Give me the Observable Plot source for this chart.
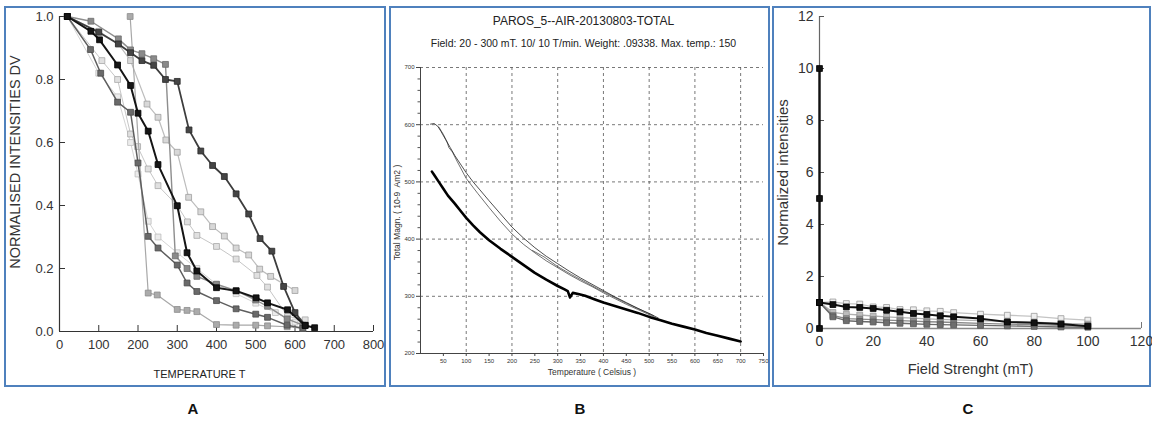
<!DOCTYPE html>
<html><head><meta charset="utf-8">
<script src="https://cdn.jsdelivr.net/npm/d3@7"></script>
<script src="https://cdn.jsdelivr.net/npm/@observablehq/plot@0.6"></script>
<style>
body{margin:0;background:#fff;}
#wrap{position:relative;width:1152px;height:423px;overflow:hidden;background:#fff;}
.box{position:absolute;border:2px solid #4f81bd;box-sizing:border-box;background:#fff;}
.box svg{position:absolute;left:0;overflow:visible;}
.lab{position:absolute;font:bold 15px "Liberation Sans",Arial,sans-serif;color:#111;transform:translate(-50%,-50%);}
.ttl{position:absolute;left:0;width:100%;text-align:center;font-family:"Liberation Sans",Arial,sans-serif;color:#222;white-space:nowrap;}
</style></head><body><div id="wrap"></div>
<script>
// ---------------- Panel A data (temperature, normalised intensity) ----------------
const aBlack = [[20,1],[80,0.953],[102,0.926],[148,0.846],[181,0.781],[200,0.693],[226,0.636],[251,0.53],[300,0.399],[325,0.25],[350,0.192],[400,0.139],[450,0.129],[501,0.107],[530,0.091],[581,0.069],[626,0.019],[650,0.012]];
const aDark = [[20,1],[100,0.95],[150,0.913],[181,0.885],[210,0.86],[240,0.845],[270,0.80],[300,0.794],[330,0.64],[360,0.573],[390,0.527],[420,0.492],[450,0.437],[482,0.373],[511,0.295],[541,0.255],[571,0.143],[600,0.06],[626,0.02]];
const aGray2 = [[20,1],[80,0.985],[150,0.929],[181,0.894],[210,0.882],[240,0.866],[270,0.848],[295,0.24],[325,0.2],[350,0.175],[400,0.15],[450,0.13],[500,0.1],[530,0.08],[580,0.04],[620,0.02]];
const aDrop180 = [[180,1.0],[226,0.122],[249,0.116],[300,0.07],[325,0.067],[350,0.063],[400,0.022],[450,0.02],[500,0.02],[530,0.018],[580,0.015],[620,0.01]];
const aMid = [[20,1],[79,0.895],[105,0.82],[148,0.728],[181,0.696],[200,0.535],[226,0.302],[251,0.265],[300,0.211],[325,0.154],[350,0.127],[400,0.098],[450,0.072],[500,0.055],[530,0.045],[580,0.02],[620,0.01]];
const aLight1 = [[20,1],[100,0.953],[150,0.913],[181,0.86],[223,0.722],[251,0.68],[271,0.608],[300,0.569],[329,0.426],[360,0.38],[390,0.333],[420,0.303],[450,0.265],[482,0.243],[510,0.198],[538,0.175],[600,0.13]];
const aLight2 = [[20,1],[108,0.86],[148,0.80],[181,0.627],[199,0.587],[226,0.516],[251,0.463],[300,0.40],[326,0.348],[350,0.305],[400,0.27],[450,0.23],[503,0.178],[530,0.141],[581,0.048],[626,0.037]];
const aLight3 = [[20,1],[100,0.82],[148,0.745],[181,0.60],[200,0.5],[226,0.35],[251,0.3],[300,0.25],[350,0.2],[400,0.15],[450,0.12],[500,0.09],[550,0.06],[600,0.03]];
const aTicksX = [0,100,200,300,400,500,600,700,800];
const aTicksY = [0,0.2,0.4,0.6,0.8,1.0];

// ---------------- Panel B data (temperature, total magnetisation) ----------------
const bThick = [[25,518],[30,512],[40,500],[50,488],[60,476],[75,462],[90,447],[100,437],[115,424],[130,412],[150,398],[175,383],[200,369],[225,355],[250,341],[275,329],[300,318],[315,312],[322,309],[327,298],[333,306],[345,304],[360,301],[380,295],[400,289],[425,283],[450,277],[475,271],[500,264],[525,258],[550,252],[575,247],[600,242],[625,236],[650,231],[675,226],[700,221]];
const bThin1 = [[22,601],[30,602],[38,597],[45,588],[55,574],[65,560],[75,546],[90,528],[100,516],[115,500],[130,486],[150,467],[175,444],[200,421],[225,402],[250,385],[275,370],[300,357],[325,344],[350,332],[375,321],[400,310],[425,299],[450,289],[475,279],[500,270],[520,262]];
const bThin2 = [[40,596],[50,583],[58,570],[62,560],[70,552],[80,536],[100,506],[125,480],[150,455],[175,431],[200,409],[225,391],[250,376],[275,362],[300,350],[325,338],[350,327],[375,317],[400,306],[425,296],[450,286],[475,277],[500,268],[515,262]];
const bThin3 = [[245,380],[270,369],[300,352],[330,338],[360,325],[390,312],[420,300],[450,288],[480,277],[510,266]];
const bTicksX = [50,100,150,200,250,300,350,400,450,500,550,600,650,700,750];
const bTicksY = [200,300,400,500,600,700];
const bMinorY = [220,240,260,280,320,340,360,380,420,440,460,480,520,540,560,580,620,640,660,680];
const bGridX = [100,200,300,400,500,600,700];
const bGridY = [300,400,500,600,700];

// ---------------- Panel C data (field strength, normalised intensity) ----------------
const cSpike = [[0,0],[0,5],[0,10],[0,1]];
const cLight = [[0,1],[5,1.02],[10,0.96],[15,0.94],[20,0.83],[25,0.81],[30,0.73],[35,0.72],[40,0.68],[45,0.66],[50,0.61],[60,0.55],[70,0.51],[80,0.47],[90,0.38],[100,0.32]];
const cBlack = [[0,1],[5,0.92],[10,0.83],[15,0.81],[20,0.77],[25,0.70],[30,0.64],[35,0.58],[40,0.54],[45,0.49],[50,0.45],[60,0.38],[70,0.25],[80,0.22],[90,0.17],[100,0.09]];
const cGrayL = [[0,1],[5,0.62],[10,0.55],[15,0.52],[20,0.48],[25,0.45],[30,0.42],[35,0.40],[40,0.37],[45,0.35],[50,0.33],[60,0.30],[70,0.27],[80,0.24],[90,0.20],[100,0.17]];
const cGray = [[0,1],[5,0.5],[10,0.38],[15,0.36],[20,0.34],[25,0.32],[30,0.30],[35,0.28],[40,0.26],[45,0.25],[50,0.23],[60,0.20],[70,0.17],[80,0.15],[90,0.12],[100,0.10]];
const cDark = [[0,1],[5,0.45],[10,0.30],[15,0.27],[20,0.25],[25,0.22],[30,0.20],[35,0.18],[40,0.16],[45,0.15],[50,0.14],[60,0.12],[70,0.10],[80,0.08],[90,0.06],[100,0.05]];
const cTicksX = [0,20,40,60,80,100,120];
const cTicksY = [0,2,4,6,8,10,12];

// ---------------- helpers ----------------
const sans = '"Liberation Sans",Arial,sans-serif';
const px = d => d[0], py = d => d[1];
function seriesMarks(list) {
  return list.flatMap(s => [
    Plot.line(s.pts, {x: px, y: py, stroke: s.stroke, strokeWidth: s.w}),
    Plot.dot(s.pts, {x: px, y: py, symbol: "square", r: s.r || 3.3, fill: s.fill, stroke: s.dot, strokeWidth: 0.8})
  ]);
}
const wrap = document.getElementById("wrap");
function box(left, top, w, h) {
  const d = document.createElement("div");
  d.className = "box";
  Object.assign(d.style, {left: left + "px", top: top + "px", width: w + "px", height: h + "px"});
  wrap.appendChild(d);
  return d;
}

// ---------------- Panel A ----------------
const seriesA = [
  {pts: aLight3, stroke: "#d4d4d4", fill: "#ececec", dot: "#bdbdbd", w: 1},
  {pts: aLight2, stroke: "#c6c6c6", fill: "#e0e0e0", dot: "#a8a8a8", w: 1},
  {pts: aLight1, stroke: "#bdbdbd", fill: "#d8d8d8", dot: "#a0a0a0", w: 1.2},
  {pts: aDrop180, stroke: "#a8a8a8", fill: "#ababab", dot: "#8c8c8c", w: 1.2},
  {pts: aGray2, stroke: "#8e8e8e", fill: "#8a8a8a", dot: "#6c6c6c", w: 1.4},
  {pts: aMid, stroke: "#5e5e5e", fill: "#6a6a6a", dot: "#4a4a4a", w: 1.5},
  {pts: aDark, stroke: "#3d3d3d", fill: "#454545", dot: "#2a2a2a", w: 1.8},
  {pts: aBlack, stroke: "#151515", fill: "#151515", dot: "#000", w: 2}
];
const boxA = box(4, 6, 382, 381);
const plotA = Plot.plot({
  width: 378, height: 377,
  marginLeft: 53, marginRight: 11, marginTop: 8, marginBottom: 54,
  style: {fontFamily: sans, background: "transparent", color: "#333"},
  x: {domain: [0, 800]},
  y: {domain: [0, 1]},
  marks: [
    Plot.ruleX([0], {stroke: "#333", strokeWidth: 1.2}),
    Plot.ruleY([0], {stroke: "#333", strokeWidth: 1.2}),
    Plot.axisX({ticks: aTicksX.slice(1), tickSize: 6, dy: -6, tickFormat: () => "", stroke: "#333"}),
    Plot.axisY({ticks: aTicksY.slice(1), tickSize: 6, dx: 6, tickFormat: () => "", stroke: "#333"}),
    Plot.axisX({ticks: aTicksX, tickSize: 0, tickPadding: 8, fontSize: 13, fill: "#333", tickFormat: d => String(d)}),
    Plot.axisY({ticks: aTicksY, tickSize: 0, tickPadding: 6, fontSize: 13, fill: "#333", tickFormat: d3.format(".1f")}),
    ...seriesMarks(seriesA),
    Plot.text(["TEMPERATURE T"], {text: d => d, frameAnchor: "bottom", dy: 46, dx: -17, fontSize: 11, fill: "#222"}),
    Plot.text(["NORMALISED INTENSITIES DV"], {text: d => d, frameAnchor: "left", textAnchor: "middle", rotate: -90, dx: -44, dy: -12, fontSize: 14.5, fill: "#333"})
  ]
});
plotA.style.top = "0px";
boxA.appendChild(plotA);

// ---------------- Panel B ----------------
const boxB = box(389, 6, 381, 381);
const t1 = document.createElement("div");
t1.className = "ttl"; t1.textContent = "PAROS_5--AIR-20130803-TOTAL";
Object.assign(t1.style, {top: "6px", fontSize: "12px", paddingLeft: "4px"});
const t2 = document.createElement("div");
t2.className = "ttl"; t2.textContent = "Field: 20 - 300 mT. 10/ 10 T/min. Weight: .09338. Max. temp.: 150";
Object.assign(t2.style, {top: "29px", fontSize: "10.5px", paddingLeft: "4px"});
boxB.appendChild(t1); boxB.appendChild(t2);
const plotB = Plot.plot({
  width: 377, height: 333,
  marginLeft: 29, marginRight: 5, marginTop: 15, marginBottom: 32,
  style: {fontFamily: sans, background: "transparent", color: "#333"},
  x: {domain: [0, 750]},
  y: {domain: [200, 700]},
  marks: [
    Plot.ruleX(bGridX, {stroke: "#555", strokeDasharray: "3,3", strokeWidth: 0.8}),
    Plot.ruleY(bGridY, {stroke: "#555", strokeDasharray: "3,3", strokeWidth: 0.8}),
    Plot.ruleX([0], {stroke: "#444", strokeWidth: 1}),
    Plot.ruleY([200], {stroke: "#444", strokeWidth: 1}),
    Plot.axisY({ticks: bMinorY, tickSize: 2.5, tickFormat: () => "", stroke: "#555"}),
    Plot.axisY({ticks: bTicksY, tickSize: 4, tickPadding: 2, fontSize: 6, fill: "#333", stroke: "#444"}),
    Plot.axisX({ticks: bTicksX, tickSize: 3, tickPadding: 2, fontSize: 6, fill: "#333", stroke: "#444"}),
    Plot.line(bThin3, {x: px, y: py, stroke: "#333", strokeWidth: 0.7}),
    Plot.line(bThin2, {x: px, y: py, stroke: "#333", strokeWidth: 0.7}),
    Plot.line(bThin1, {x: px, y: py, stroke: "#222", strokeWidth: 0.8}),
    Plot.line(bThick, {x: px, y: py, stroke: "#000", strokeWidth: 2.6}),
    Plot.text(["Temperature ( Celsius )"], {text: d => d, frameAnchor: "bottom", dy: 21, fontSize: 8.5, fill: "#333"}),
    Plot.text(["Total Magn. ( 10-9  Am2 )"], {text: d => d, frameAnchor: "left", textAnchor: "middle", rotate: -90, dx: -23, dy: 2, fontSize: 8.5, fill: "#333", letterSpacing: "1px"})
  ]
});
plotB.style.top = "44px";
boxB.appendChild(plotB);

// ---------------- Panel C ----------------
const seriesC = [
  {pts: cLight, stroke: "#c4c4c4", fill: "#eeeeee", dot: "#9a9a9a", w: 1.3},
  {pts: cGrayL, stroke: "#b0b0b0", fill: "#bdbdbd", dot: "#999", w: 1.3},
  {pts: cGray, stroke: "#8a8a8a", fill: "#8f8f8f", dot: "#777", w: 1.3},
  {pts: cDark, stroke: "#6a6a6a", fill: "#6e6e6e", dot: "#555", w: 1.4},
  {pts: cSpike, stroke: "#111", fill: "#111", dot: "#000", w: 2.4},
  {pts: cBlack, stroke: "#111", fill: "#111", dot: "#000", w: 2}
];
const boxC = box(772, 6, 379, 381);
const plotC = Plot.plot({
  width: 375, height: 377,
  marginLeft: 45, marginRight: 8, marginTop: 8, marginBottom: 57,
  style: {fontFamily: sans, background: "transparent", color: "#333"},
  x: {domain: [0, 120]},
  y: {domain: [0, 12]},
  marks: [
    Plot.ruleY([0], {stroke: "#888", strokeWidth: 1.3}),
    Plot.ruleX([0], {stroke: "#666", strokeWidth: 1.2}),
    Plot.axisY({ticks: cTicksY.slice(1), tickSize: 5, dx: 5, tickFormat: () => "", stroke: "#555"}),
    Plot.axisX({ticks: [120], tickSize: 6, dy: -6, tickFormat: () => "", stroke: "#777"}),
    Plot.axisY({ticks: cTicksY, tickSize: 0, tickPadding: 6, fontSize: 14, fill: "#333"}),
    Plot.axisX({ticks: cTicksX, tickSize: 0, tickPadding: 8, fontSize: 14, fill: "#333"}),
    ...seriesMarks(seriesC),
    Plot.text(["Field Strenght (mT)"], {text: d => d, frameAnchor: "bottom", dy: 45, dx: -10, fontSize: 14.6, fill: "#333"}),
    Plot.text(["Normalized intensities"], {text: d => d, frameAnchor: "left", textAnchor: "middle", rotate: -90, dx: -36, fontSize: 15, fill: "#333"})
  ]
});
plotC.style.top = "0px";
boxC.appendChild(plotC);

// ---------------- panel letters ----------------
[["A", 193, 408], ["B", 580, 408], ["C", 968, 408]].forEach(([t, x, y]) => {
  const d = document.createElement("div");
  d.className = "lab"; d.textContent = t;
  d.style.left = x + "px"; d.style.top = y + "px";
  wrap.appendChild(d);
});
</script></body></html>
